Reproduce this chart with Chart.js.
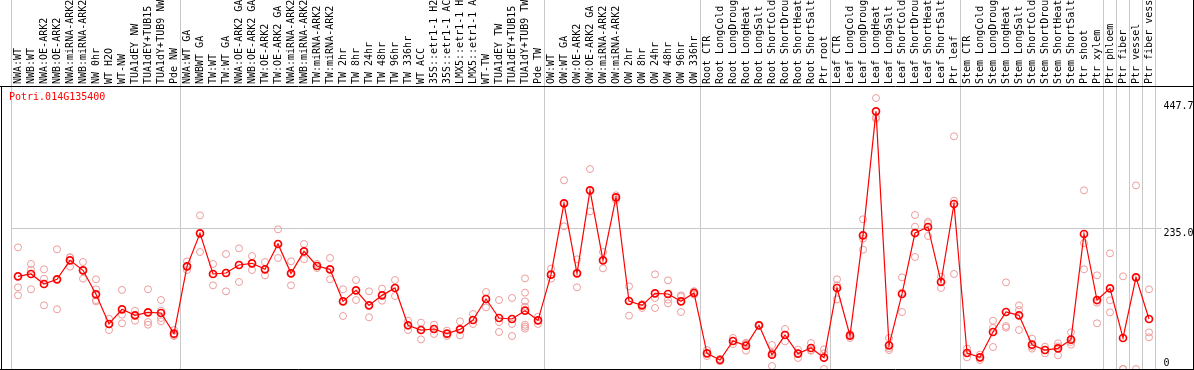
<!DOCTYPE html>
<html>
<head>
<meta charset="utf-8">
<script src="https://cdn.jsdelivr.net/npm/chart.js@4"></script>
<style>
  html, body { margin: 0; padding: 0; background: #fff; overflow: hidden; }
  #wrap { position: relative; width: 1194px; height: 370px; }
  #gene { position: absolute; left: 9px; top: 91px; font: 10px/12px "DejaVu Sans Mono", monospace; color: #ff0000; }
</style>
</head>
<body>
<div id="wrap">
  <canvas id="chart" width="1194" height="370"></canvas>
  <div id="gene">Potri.014G135400</div>
</div>
<script>
// ── Data ─────────────────────────────────────────────────────────────────────

const labels = [
  'NWA:WT', 'NWB:WT', 'NWA:OE-ARK2', 'NWB:OE-ARK2', 'NWA:miRNA-ARK2', 'NWB:miRNA-ARK2',
  'NW 0hr', 'WT H2O', 'WT-NW', 'TUA1dEY NW', 'TUA1dEY+TUB15', 'TUA1dY+TUB9 NW', 'Pde NW',
  'NWA:WT GA', 'NWBWT GA', 'TW:WT', 'TW:WT GA', 'NWA:OE-ARK2 GA', 'NWB:OE-ARK2 GA',
  'TW:OE-ARK2', 'TW:OE-ARK2 GA', 'NWA:miRNA-ARK2', 'NWB:miRNA-ARK2', 'TW:miRNA-ARK2',
  'TW:miRNA-ARK2', 'TW 2hr', 'TW 8hr', 'TW 24hr', 'TW 48hr', 'TW 96hr', 'TW 336hr', 'WT ACC',
  '35S::etr1-1 H2', '35S::etr1-1 AC', 'LMX5::etr1-1 H', 'LMX5::etr1-1 A', 'WT-TW',
  'TUA1dEY TW', 'TUA1dEY+TUB15', 'TUA1dY+TUB9 TW', 'Pde TW',
  'OW:WT', 'OW:WT GA', 'OW:OE-ARK2', 'OW:OE-ARK2 GA', 'OW:miRNA-ARK2', 'OW:miRNA-ARK2',
  'OW 2hr', 'OW 8hr', 'OW 24hr', 'OW 48hr', 'OW 96hr', 'OW 336hr',
  'Root CTR', 'Root LongCold', 'Root LongDroug', 'Root LongHeat', 'Root LongSalt',
  'Root ShortCold', 'Root ShortDrou', 'Root ShortHeat', 'Root ShortSalt', 'Ptr root',
  'Leaf CTR', 'Leaf LongCold', 'Leaf LongDroug', 'Leaf LongHeat', 'Leaf LongSalt',
  'Leaf ShortCold', 'Leaf ShortDrou', 'Leaf ShortHeat', 'Leaf ShortSalt', 'Ptr leaf',
  'Stem CTR', 'Stem LongCold', 'Stem LongDroug', 'Stem LongHeat', 'Stem LongSalt',
  'Stem ShortCold', 'Stem ShortDrou', 'Stem ShortHeat', 'Stem ShortSalt', 'Ptr shoot',
  'Ptr xylem', 'Ptr phloem', 'Ptr fiber', 'Ptr vessel', 'Ptr fiber vess',
];

// mean expression per sample
const means = [
  154.8, 158.7, 142.0, 149.8, 181.5, 164.8, 124.7, 75.2, 99.7, 89.6, 94.6, 93.5, 59.0,
  171.5, 226.6, 158.7, 160.3, 173.7, 176.5, 166.5, 208.8, 159.8, 196.5, 172.0, 166.5,
  113.0, 131.4, 106.3, 123.0, 135.3, 73.0, 65.1, 66.8, 59.0, 66.2, 81.8, 116.9, 85.2,
  83.5, 97.4, 81.3,
  157.5, 276.7, 159.8, 298.4, 181.5, 286.7, 113.6, 106.3, 126.4, 125.3, 113.0, 127.0,
  26.2, 15.0, 46.8, 39.0, 73.0, 24.0, 56.8, 25.6, 35.1, 18.9,
  135.3, 55.7, 223.2, 430.3, 39.5, 125.3, 227.1, 237.2, 145.3, 275.6,
  26.7, 19.5, 61.8, 95.2, 89.6, 40.6, 31.7, 34.5, 49.0, 225.5,
  115.2, 134.7, 51.8, 153.1, 83.5,
];

// individual replicates per sample
const reps = [
  [203.2, 136.4, 123.0], [175.4, 165.9, 133.1], [166.5, 150.9, 106.3], [199.9, 149.8, 99.7],
  [186.5, 186.5, 170.9], [178.7, 164.8, 150.9], [149.8, 133.1, 115.2, 113.0], [84.1, 75.2, 65.1],
  [132.0, 90.7, 76.3], [97.4, 89.6, 80.7], [133.1, 78.5, 74.0], [115.2, 97.4, 85.2, 79.6],
  [65.1, 56.2, 55.1],
  [179.8, 171.5, 165.3], [256.6, 226.6, 195.4], [175.4, 158.7, 139.7], [192.1, 160.3, 129.7],
  [201.5, 173.7, 145.3], [188.7, 176.5, 165.3], [178.7, 166.5, 156.4], [233.3, 208.8, 185.4],
  [179.8, 159.8, 139.7], [208.8, 196.5, 183.2], [175.4, 172.0, 168.7], [185.4, 166.5, 149.8],
  [133.1, 113.0, 88.5], [148.6, 131.4, 115.2], [129.7, 106.3, 86.3], [134.2, 123.0, 114.1],
  [148.6, 135.3, 121.9], [80.7, 73.0, 65.1], [77.4, 65.1, 49.5], [74.0, 66.8, 58.5],
  [64.0, 59.0, 55.1], [79.6, 66.2, 56.2], [91.9, 81.8, 75.2], [128.6, 116.9, 103.0],
  [115.2, 78.5, 61.8], [118.6, 75.2, 55.1],
  [151.4, 127.5, 113.0, 104.1, 74.0, 70.7, 67.4], [87.4, 81.3, 75.2],
  [167.6, 157.5, 150.9], [315.1, 276.7, 238.3], [183.2, 159.8, 136.4], [334.0, 298.4, 263.3],
  [195.4, 181.5, 168.1], [290.1, 286.7, 282.2], [138.1, 113.6, 89.1], [108.6, 106.3, 101.9],
  [158.1, 118.6, 101.9], [148.1, 115.8, 109.7], [123.0, 121.0, 95.2], [130.0, 127.0, 124.1],
  [31.7, 26.2, 21.7], [17.0, 15.0, 13.0], [51.8, 46.8, 41.8], [44.0, 42.4, 30.6],
  [74.0, 73.0, 72.0], [40.1, 27.0, 5.0], [66.8, 57.4, 46.2], [32.3, 26.1, 18.4],
  [43.4, 31.3, 30.6], [32.9, 26.2, 0.0],
  [149.8, 139.8, 116.3], [58.5, 56.8, 51.8], [250.0, 217.7, 199.3], [452.6, 420.3, 418.0],
  [51.8, 35.0, 31.7], [153.1, 127.6, 95.2], [257.2, 237.7, 187.1], [246.1, 243.4, 222.1],
  [154.2, 146.4, 135.3], [388.6, 281.1, 158.7],
  [34.0, 26.7, 19.5], [24.0, 19.5, 15.0], [80.7, 68.5, 36.7], [144.7, 71.8, 69.1],
  [106.3, 98.5, 65.1], [50.7, 37.1, 34.0], [37.3, 31.7, 26.2], [42.9, 37.8, 22.8],
  [61.2, 45.2, 40.6], [298.4, 210.4, 166.5],
  [156.4, 110.8, 76.3], [193.2, 114.7, 94.6], [154.8, 0.0, 0.0], [306.7, 152.6, 0.0],
  [133.1, 61.2, 52.9],
];

// first sample of each group (separator lines sit on their left edge)
const groupStarts = [0, 13, 41, 53, 63, 73, 84, 85, 86, 87];
const yTicks = [0, 235.0, 447.7];

// ── Setup ────────────────────────────────────────────────────────────────────

const GRID = '#c8c8c8';
const RED = '#ff0000';
const PINK = '#ec9c9c';

Chart.defaults.font.family = '"DejaVu Sans Mono", monospace';
Chart.defaults.font.size = 10;
Chart.defaults.color = '#000';

const maxReps = Math.max(...reps.map(r => r.length));
const repSets = [];
for (let k = 0; k < maxReps; k++) {
  repSets.push({
    label: 'rep ' + (k + 1),
    data: reps.map(r => (k < r.length ? r[k] : null)),
    showLine: false,
    pointRadius: 3.5,
    pointHoverRadius: 3.5,
    pointBorderWidth: 1,
    pointBorderColor: PINK,
    pointBackgroundColor: 'transparent',
    clip: false,
  });
}

// black frame + header rule
const framePlugin = {
  id: 'frame',
  afterDraw(chart) {
    const { ctx, chartArea: a, width } = chart;
    ctx.save();
    ctx.strokeStyle = '#000';
    ctx.lineWidth = 1;
    ctx.beginPath();
    ctx.moveTo(0, a.top - 0.5); ctx.lineTo(width, a.top - 0.5);
    ctx.moveTo(1.5, a.top); ctx.lineTo(1.5, a.bottom + 1);
    ctx.moveTo(0, a.bottom + 0.5); ctx.lineTo(width, a.bottom + 0.5);
    ctx.moveTo(width - 0.5, 0); ctx.lineTo(width - 0.5, a.bottom + 1);
    ctx.stroke();
    ctx.restore();
  },
};

function noPad(s) {
  s.paddingTop = 0;
  s.paddingBottom = 0;
  s.paddingLeft = 0;
  s.paddingRight = 0;
}

new Chart(document.getElementById('chart'), {
  type: 'line',
  data: {
    labels,
    datasets: [
      {
        label: 'mean',
        data: means,
        borderColor: RED,
        borderWidth: 1.2,
        tension: 0,
        pointRadius: 3.5,
        pointHoverRadius: 3.5,
        pointBorderWidth: 1.7,
        pointBorderColor: RED,
        pointBackgroundColor: 'transparent',
        clip: false,
      },
      ...repSets,
    ],
  },
  options: {
    responsive: false,
    animation: false,
    devicePixelRatio: 1,
    layout: { autoPadding: false, padding: { left: 11.5, right: 0, top: 0, bottom: 1 } },
    plugins: { legend: { display: false }, tooltip: { enabled: false } },
    scales: {
      x: {
        position: 'top',
        offset: true,
        grid: {
          offset: true,
          color: c => (c.type !== 'tick' || groupStarts.includes(c.index)) ? GRID : 'transparent',
          lineWidth: 1,
          drawTicks: true,
          tickLength: 87,
        },
        border: { display: false },
        ticks: {
          autoSkip: false,
          minRotation: 90,
          maxRotation: 90,
          padding: -84,
          labelOffset: 12,
          color: '#000',
          font: { size: 10 },
        },
        afterFit: s => { s.height = 87; noPad(s); },
      },
      y: {
        position: 'right',
        min: 0,
        max: 471,
        afterBuildTicks: s => { s.ticks = yTicks.map(v => ({ value: v })); },
        grid: {
          color: c => (c.tick && c.tick.value === 235) ? GRID : 'transparent',
          drawTicks: true,
          tickLength: 6,
        },
        border: { display: false },
        ticks: {
          padding: 2,
          color: '#000',
          font: { size: 10, lineHeight: 1.1 },
          callback: v => (v === 0 ? ['0', ''] : ['', v.toFixed(1)]),
        },
        afterFit: s => { s.width = 38.5; noPad(s); },
      },
    },
  },
  plugins: [framePlugin],
});
</script>
</body>
</html>
